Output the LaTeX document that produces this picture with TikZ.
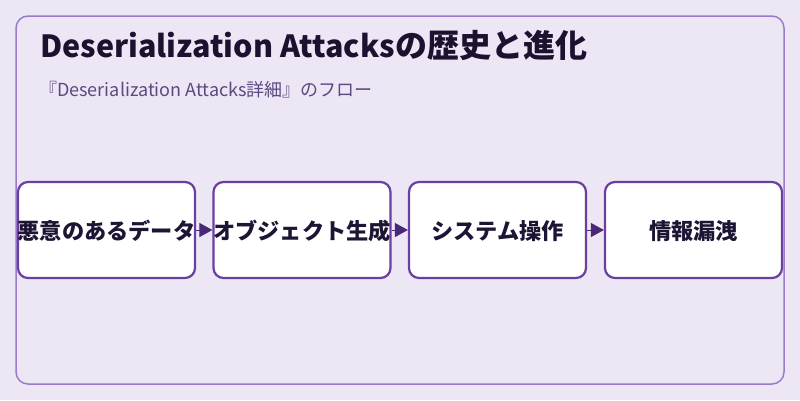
\documentclass[tikz,border=0pt]{standalone}
\usepackage{fontspec}
\setmainfont{Noto Sans CJK JP}
\usetikzlibrary{arrows.meta}
\definecolor{bgc}{HTML}{EDE6F5}
\definecolor{framec}{HTML}{9A7BCB}
\definecolor{boxc}{HTML}{6A3FA0}
\definecolor{arrc}{HTML}{4A2878}
\definecolor{titlec}{HTML}{1D1130}
\definecolor{subc}{HTML}{5A4A80}
\definecolor{txtc}{HTML}{1E1535}
\newcommand{\bigcjk}[1]{{\fontsize{32}{34}\selectfont #1}}
\tikzset{
  stepbox/.style={draw=boxc, line width=2.2pt, fill=white, rounded corners=10pt,
    minimum width=177pt, minimum height=96pt, inner sep=0pt},
  steptext/.style={text=txtc, font=\fontsize{22.2}{25}\selectfont\bfseries, inner sep=0pt},
  flow/.style={draw=arrc, line width=1pt, -{Triangle[length=13pt,width=14pt]}}
}
\begin{document}
\begin{tikzpicture}[x=1pt,y=-1pt]
\useasboundingbox (0,0) rectangle (800,400);
\fill[bgc] (0,0) rectangle (800,400);
\draw[framec, line width=1.5pt, rounded corners=12pt] (16,16) rectangle (784,384);
\node[anchor=base west, text=titlec, font=\fontsize{30.5}{34}\selectfont\bfseries, inner sep=0pt] (title) at (40,57) {Deserialization Attacks\bigcjk{の歴史と進化}};
\node[anchor=base west, text=subc, font=\fontsize{18}{20}\selectfont, inner sep=0pt] (sub) at (39,96) {『Deserialization Attacks詳細』のフロー};
\node[stepbox] (b1) at (106.5,230) {};
\node[stepbox] (b2) at (302,230) {};
\node[stepbox] (b3) at (497.5,230) {};
\node[stepbox] (b4) at (693.5,230) {};
\node[steptext] (t1) at ([yshift=-1pt]b1.center) {悪意のあるデータ};
\node[steptext] (t2) at ([yshift=-1pt]b2.center) {オブジェクト生成};
\node[steptext] (t3) at ([yshift=-1pt]b3.center) {システム操作};
\node[steptext] (t4) at ([yshift=-1pt]b4.center) {情報漏洩};
\draw[flow] (b1.east) -- (b2.west);
\draw[flow] (b2.east) -- (b3.west);
\draw[flow] (b3.east) -- (b4.west);
\end{tikzpicture}
\end{document}
